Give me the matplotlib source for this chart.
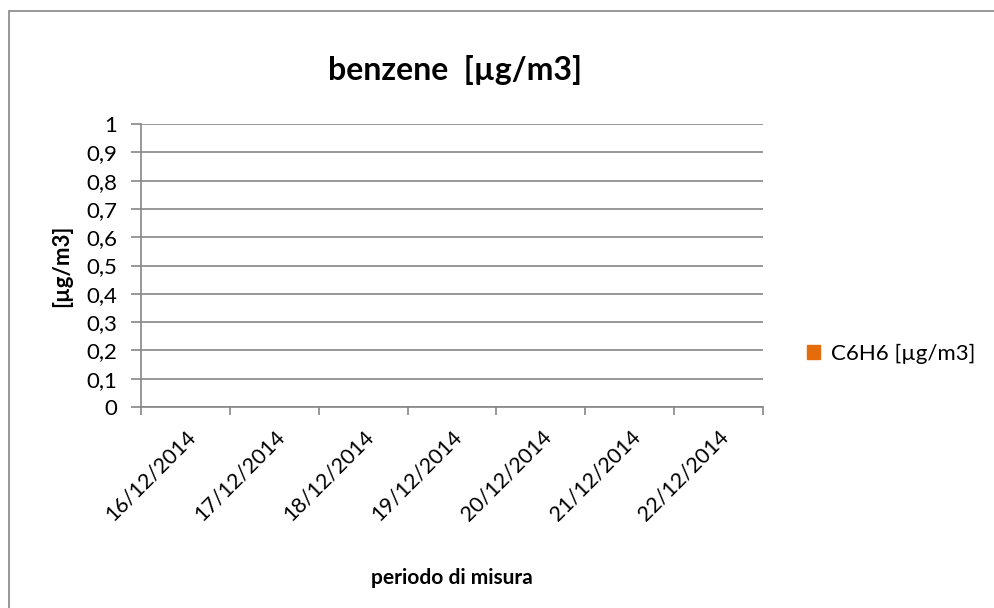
import numpy as np
import matplotlib
matplotlib.use("Agg")
import matplotlib.pyplot as plt
import matplotlib.patches as mpatches
from matplotlib.transforms import ScaledTranslation

# categories (days of measurement) and values (no data available)
dates = ["16/12/2014", "17/12/2014", "18/12/2014", "19/12/2014",
         "20/12/2014", "21/12/2014", "22/12/2014"]
c6h6 = [np.nan, np.nan, np.nan, np.nan, np.nan, np.nan, np.nan]
y_ticks = [0, 0.1, 0.2, 0.3, 0.4, 0.5, 0.6, 0.7, 0.8, 0.9, 1]
y_labels = ["0", "0,1", "0,2", "0,3", "0,4", "0,5", "0,6", "0,7", "0,8", "0,9", "1"]

plt.rcParams['font.family'] = ['Lato', 'DejaVu Sans']
grey = '#868686'
orange = '#E46C0A'

fig = plt.figure(figsize=(9.95, 6.08), dpi=100)
# outer frame of the chart, as in the spreadsheet
fig.patches.append(mpatches.Rectangle((9 / 995, -0.1), 1.2, 1 - 11 / 608 + 0.1,
                                      transform=fig.transFigure, fill=False,
                                      edgecolor=grey, linewidth=1.2))

ax = fig.add_axes([141 / 995, 1 - 407 / 608, (763 - 141) / 995, (407 - 124) / 608])
x = np.arange(len(dates))
ax.bar(x, c6h6, color=orange, width=0.6)

ax.set_xlim(-0.5, len(dates) - 0.5)
ax.set_ylim(0, 1)
ax.set_yticks(y_ticks)
ax.set_yticklabels(y_labels, fontsize=16)
ax.set_xticks(x)
ax.set_xticklabels(dates, rotation=45, ha='right', rotation_mode='anchor', fontsize=15.5)
# shift date labels a little to the left, like the spreadsheet
for lbl in ax.get_xticklabels():
    lbl.set_transform(lbl.get_transform() + ScaledTranslation(-4 / 72, 0, fig.dpi_scale_trans))
ax.set_xticks(np.arange(len(dates) + 1) - 0.5, minor=True)
ax.tick_params(axis='x', which='major', length=0, pad=14)
ax.tick_params(axis='x', which='minor', length=6, color=grey, width=1.2)
ax.tick_params(axis='y', length=7, color=grey, width=1.2, pad=10)
ax.yaxis.grid(True, color=grey, linewidth=1.2)
ax.set_axisbelow(True)
for side in ['top', 'right']:
    ax.spines[side].set_visible(False)
for side in ['left', 'bottom']:
    ax.spines[side].set_color(grey)
    ax.spines[side].set_linewidth(1.2)

ax.set_ylabel('[µg/m3]', fontsize=16, fontweight='bold')
ax.yaxis.set_label_coords(-0.111, 0.5)
ax.set_xlabel('periodo di misura', fontsize=15, fontweight='bold')
ax.xaxis.set_label_coords(0.5, -0.57)
fig.text(455 / 995, 1 - 70 / 608, 'benzene  [µg/m3]', fontsize=23,
         fontweight='bold', ha='center', va='center')

handle = mpatches.Patch(color=orange, label='C6H6 [µg/m3]')
fig.legend(handles=[handle], loc='center left', bbox_to_anchor=(807 / 995, 1 - 354 / 608),
           frameon=False, fontsize=16, handlelength=0.6, handleheight=0.6,
           handletextpad=0.5, borderpad=0, borderaxespad=0)

fig.savefig('out.png', dpi=100)
